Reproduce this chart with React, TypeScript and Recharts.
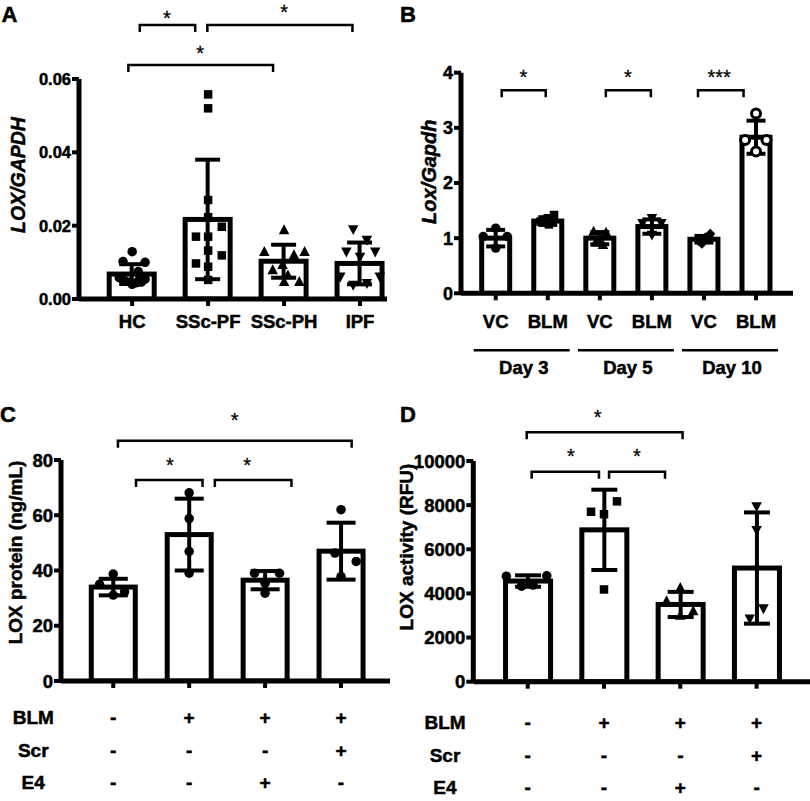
import React from 'react';
import {
  ComposedChart, Bar, ErrorBar, Scatter, XAxis, YAxis, ReferenceLine, ReferenceDot,
} from 'recharts';

type Pt = [number, number]; // [value, horizontal jitter in group units]
type Bracket = { from: number; to: number; y: number; star: string; sx: number; sy: number };

const FONT = '"Liberation Sans", Arial, Helvetica, sans-serif';
const INK = '#000';

/* A: LOX/GAPDH, human lung */
const A_GROUPS = ['HC', 'SSc-PF', 'SSc-PH', 'IPF'];
const A_MEAN = [0.0068, 0.0217, 0.0103, 0.0097];
const A_SD = [0.0027, 0.0163, 0.0045, 0.0057];
const A_YTICKS = [0, 0.02, 0.04, 0.06];
const A_HC: Pt[] = [[0.0129, 0], [0.0102, -0.12], [0.0100, 0.17], [0.0075, 0.08], [0.0058, -0.17], [0.0050, -0.1], [0.0046, -0.03], [0.0044, 0.05], [0.0046, 0.12], [0.0054, 0.17], [0.0062, 0.1], [0.0040, 0]];
const A_PF: Pt[] = [[0.0558, 0], [0.052, 0], [0.027, 0], [0.0223, 0], [0.0197, 0.18], [0.017, -0.16], [0.017, 0], [0.0132, 0], [0.0119, 0.18], [0.0097, -0.16], [0.0088, 0], [0.0052, 0]];
const A_PH: Pt[] = [[0.0188, 0], [0.0129, -0.26], [0.0129, 0.27], [0.012, 0.13], [0.0093, -0.02], [0.0079, -0.15], [0.0065, 0.05], [0.0047, 0], [0.0047, 0.2]];
const A_IPF: Pt[] = [[0.019, -0.09], [0.0161, 0.09], [0.0129, -0.18], [0.0129, 0.2], [0.0115, 0], [0.0061, -0.26], [0.0061, 0.26], [0.0038, -0.09], [0.0043, 0.09]];
const A_BRACKETS: Bracket[] = [
  { from: 0.1, to: 0.83, y: 0.0747, star: '*', sx: 0.456, sy: 0.0777 },
  { from: 0.99, to: 2.9, y: 0.0747, star: '*', sx: 2.0, sy: 0.0793 },
  { from: -0.05, to: 1.855, y: 0.0638, star: '*', sx: 0.895, sy: 0.0681 },
];

/* B: Lox/Gapdh, mouse bleomycin time course */
const B_GROUPS = ['VC', 'BLM', 'VC', 'BLM', 'VC', 'BLM'];
const B_DAYS = ['Day 3', 'Day 5', 'Day 10'];
const B_DAY_AT = [0.5, 2.5, 4.5];
const B_MEAN = [1.0, 1.31, 1.0, 1.21, 0.98, 2.83];
const B_SD = [0.15, 0.07, 0.11, 0.13, 0.06, 0.3];
const B_YTICKS = [0, 1, 2, 3, 4];
const B_VC3: Pt[] = [[1.18, 0], [1.03, -0.24], [1.03, 0.22], [0.82, 0]];
const B_BLM3: Pt[] = [[1.42, 0.12], [1.36, 0], [1.3, -0.14], [1.25, 0.02]];
const B_VC5: Pt[] = [[1.12, -0.12], [1.1, 0.12], [0.92, -0.08], [0.88, 0.06]];
const B_BLM5: Pt[] = [[1.36, 0], [1.27, -0.18], [1.27, 0.18], [1.06, 0]];
const B_VC10: Pt[] = [[1.08, 0.12], [1.01, 0.02], [0.95, -0.1], [0.9, -0.04]];
const B_BLM10: Pt[] = [[3.26, 0], [2.78, -0.21], [2.78, 0.2], [2.57, 0]];
const B_BRACKETS: Bracket[] = [
  { from: 0.115, to: 0.96, y: 3.68, star: '*', sx: 0.53, sy: 4.0 },
  { from: 2.115, to: 2.98, y: 3.68, star: '*', sx: 2.54, sy: 4.0 },
  { from: 3.885, to: 4.76, y: 3.68, star: '***', sx: 4.29, sy: 4.0 },
];

/* C: LOX protein */
const C_MEAN = [34, 53, 36.5, 47];
const C_SD = [3, 13, 3.3, 10.3];
const C_YTICKS = [0, 20, 40, 60, 80];
const C_G1: Pt[] = [[38.7, 0], [35, -0.18], [31.1, 0], [32.3, 0.15]];
const C_G2: Pt[] = [[68.1, 0], [58.8, 0], [46.9, 0], [39, 0]];
const C_G3: Pt[] = [[39, -0.14], [39, 0.19], [35.4, 0], [31.8, 0]];
const C_G4: Pt[] = [[62, 0], [46.3, -0.08], [43.3, 0.2], [37.8, 0]];
const C_BRACKETS: Bracket[] = [
  { from: 0.062, to: 3.14, y: 87, star: '*', sx: 1.6, sy: 96 },
  { from: 0.3, to: 1.176, y: 72.8, star: '*', sx: 0.746, sy: 79.6 },
  { from: 1.338, to: 2.347, y: 72.8, star: '*', sx: 1.763, sy: 79.6 },
];

/* D: LOX activity */
const D_MEAN = [4560, 6880, 3500, 5150];
const D_SD = [260, 1820, 570, 2520];
const D_YTICKS = [0, 2000, 4000, 6000, 8000, 10000];
const D_G1: Pt[] = [[4780, -0.28], [4800, 0.25], [4330, -0.08], [4380, 0.07]];
const D_G2: Pt[] = [[7700, -0.17], [7590, 0], [8170, 0.17], [4180, 0]];
const D_G3: Pt[] = [[4260, 0], [3650, -0.18], [3200, 0.17], [3000, 0]];
const D_G4: Pt[] = [[7940, 0], [6870, 0], [3320, 0.09], [2860, -0.09]];
const D_BRACKETS: Bracket[] = [
  { from: -0.013, to: 2.03, y: 11300, star: '*', sx: 0.917, sy: 12160 },
  { from: 0.052, to: 0.934, y: 9516, star: '*', sx: 0.567, sy: 10420 },
  { from: 1.066, to: 1.8, y: 9516, star: '*', sx: 1.43, sy: 10420 },
];

/* treatment table under C and D */
const T_ROWS = ['BLM', 'Scr', 'E4'];
const T_BLM = ['-', '+', '+', '+'];
const T_SCR = ['-', '-', '-', '+'];
const T_E4 = ['-', '-', '+', '-'];

const AXIS_W = 5;
const BAR_W = 5;

// a thin outline on the glyphs mimics the heavy print of the original
const bold = (size: number) => ({
  fill: INK, fontSize: size, fontWeight: 700, fontFamily: FONT, stroke: INK, strokeWidth: 0.5,
});

function markerShape(kind: string, s: number) {
  return (p: any) => {
    const { cx, cy } = p;
    if (cx == null || cy == null) return <g />;
    const h = s / 2;
    switch (kind) {
      case 'square':
        return <rect x={cx - h} y={cy - h} width={s} height={s} fill={INK} />;
      case 'up':
        return <polygon points={`${cx},${cy - h * 1.1} ${cx + h},${cy + h * 0.8} ${cx - h},${cy + h * 0.8}`} fill={INK} />;
      case 'down':
        return <polygon points={`${cx},${cy + h * 1.1} ${cx + h},${cy - h * 0.8} ${cx - h},${cy - h * 0.8}`} fill={INK} />;
      case 'diamond':
        return <polygon points={`${cx},${cy - h * 1.2} ${cx + h * 1.2},${cy} ${cx},${cy + h * 1.2} ${cx - h * 1.2},${cy}`} fill={INK} />;
      case 'open':
        return <circle cx={cx} cy={cy} r={h - 1} fill="#fff" stroke={INK} strokeWidth={3} />;
      default:
        return <circle cx={cx} cy={cy} r={h} fill={INK} />;
    }
  };
}

const bracketShape = (p: any) => {
  const { x1, y1, x2 } = p;
  if (x1 == null) return <g />;
  return <path d={`M${x1},${y1 + 7}V${y1}H${x2}V${y1 + 7}`} fill="none" stroke={INK} strokeWidth={2.5} />;
};

const starShape = (label: string) => (p: any) => (
  <text x={p.cx} y={p.cy + 11} textAnchor="middle" fontFamily={FONT} fontSize={20} fill={INK} stroke={INK} strokeWidth={0.3}>{label}</text>
);

// white box with a heavy outline
const barShape = (p: any) => {
  const { x, y, width, height } = p;
  if (x == null || !height) return <g />;
  return <rect x={x} y={y} width={width} height={height} fill="#fff" stroke={INK} strokeWidth={BAR_W} />;
};

function DayTick(props: any) {
  const { x, y, index } = props;
  return (
    <g>
      <line x1={x - 48} x2={x + 48} y1={y + 17} y2={y + 17} stroke={INK} strokeWidth={2.6} />
      <text x={x + 2} y={y + 41} textAnchor="middle" {...bold(18.5)}>{B_DAYS[index]}</text>
    </g>
  );
}

function TableTick(props: any) {
  const { x, y, index, rowDy, nameDx } = props;
  const rows = [T_BLM, T_SCR, T_E4];
  return (
    <g>
      {rows.map((r, k) => (
        <text key={k} x={x} y={y + rowDy[k]} dy="0.36em" textAnchor="middle" {...bold(19)}>{r[index]}</text>
      ))}
      {index === 0 && T_ROWS.map((n, k) => (
        <text key={n} x={x + nameDx} y={y + rowDy[k]} dy="0.36em" textAnchor="middle" {...bold(19)}>{n}</text>
      ))}
    </g>
  );
}

function DotBarPanel({
  left, top, width, height, margin, yWidth, xHeight, xDomain, yDomain, yTicks, yFmt, yFont = 16,
  labels, means, sds, groups, shapes, barSize, cap, brackets, xTick, xTickMargin = 9, dayTicks,
}: any) {
  const bars = means.map((m: number, i: number) => ({ x: i, mean: m, sd: sds[i] }));
  const idx = means.map((_: number, i: number) => i);
  return (
    <div style={{ position: 'absolute', left, top }}>
      <ComposedChart width={width} height={height} margin={margin} data={bars}>
        <XAxis
          type="number" dataKey="x" domain={xDomain} allowDataOverflow ticks={idx} interval={0}
          height={xHeight} tickSize={7} tickMargin={xTick ? 0 : xTickMargin}
          axisLine={{ stroke: INK, strokeWidth: AXIS_W }} tickLine={{ stroke: INK, strokeWidth: 4 }}
          tick={xTick ?? bold(18.5)} tickFormatter={(v: number) => (labels ? labels[v] : '')}
        />
        {/* second axis carries the dots (jittered x); in B it also shows the day groups */}
        {dayTicks ? (
          <XAxis
            xAxisId="pts" type="number" dataKey="x" domain={xDomain} allowDataOverflow ticks={dayTicks} interval={0}
            height={40} tickSize={0} tickMargin={0} axisLine={false} tickLine={false} tick={<DayTick />}
          />
        ) : (
          <XAxis xAxisId="pts" type="number" dataKey="x" domain={xDomain} allowDataOverflow hide />
        )}
        <YAxis
          type="number" domain={yDomain} allowDataOverflow ticks={yTicks} interval={0} width={yWidth}
          tickSize={7} tickMargin={1} tickFormatter={yFmt}
          axisLine={{ stroke: INK, strokeWidth: AXIS_W }} tickLine={{ stroke: INK, strokeWidth: 4 }}
          tick={bold(yFont)}
        />
        <Bar dataKey="mean" fill="#fff" stroke={INK} strokeWidth={BAR_W} barSize={barSize} shape={barShape} isAnimationActive={false}>
          <ErrorBar dataKey="sd" direction="y" width={cap} stroke={INK} strokeWidth={4} isAnimationActive={false} />
        </Bar>
        {groups.map((g: Pt[], i: number) => (
          <Scatter
            key={`g${i}`} xAxisId="pts" dataKey="v" isAnimationActive={false}
            data={g.map(([v, o]) => ({ x: i + o, v }))}
            shape={markerShape(shapes[i][0], shapes[i][1])}
          />
        ))}
        {brackets.map((b: Bracket, i: number) => (
          <ReferenceLine
            key={`b${i}`} ifOverflow="visible" shape={bracketShape}
            segment={[{ x: b.from, y: b.y }, { x: b.to, y: b.y }]}
          />
        ))}
        {brackets.map((b: Bracket, i: number) => (
          <ReferenceDot key={`s${i}`} x={b.sx} y={b.sy} ifOverflow="visible" shape={starShape(b.star)} />
        ))}
      </ComposedChart>
    </div>
  );
}

const titleStyle = { fill: INK, fontWeight: 700, fontFamily: FONT, stroke: INK, strokeWidth: 0.5 };

export default function App() {
  return (
    <div style={{ position: 'absolute', left: 0, top: 0, width: 810, height: 801, background: '#fff', overflow: 'hidden', fontFamily: FONT }}>
      <DotBarPanel
        left={0} top={0} width={400} height={400}
        margin={{ top: 79, right: 13, left: 19, bottom: 61 }} yWidth={60} xHeight={40}
        xDomain={[-0.7, 3.355]} yDomain={[0, 0.06]} yTicks={A_YTICKS} yFmt={(v: number) => v.toFixed(2)} yFont={16.5}
        labels={A_GROUPS} means={A_MEAN} sds={A_SD}
        groups={[A_HC, A_PF, A_PH, A_IPF]}
        shapes={[['circle', 9.5], ['square', 8.5], ['up', 10.5], ['down', 10.5]]}
        barSize={45} cap={12.5} brackets={A_BRACKETS}
      />
      <DotBarPanel
        left={400} top={0} width={410} height={400}
        margin={{ top: 72.7, right: 17, left: 21, bottom: 26.7 }} yWidth={40} xHeight={40}
        xDomain={[-0.667, 5.71]} yDomain={[0, 4]} yTicks={B_YTICKS} yFmt={(v: number) => String(v)} yFont={18}
        labels={B_GROUPS} means={B_MEAN} sds={B_SD} xTickMargin={14.7}
        groups={[B_VC3, B_BLM3, B_VC5, B_BLM5, B_VC10, B_BLM10]}
        shapes={[['circle', 9.5], ['square', 8.5], ['up', 10.5], ['down', 10.5], ['diamond', 8.5], ['open', 11]]}
        barSize={28} cap={9.5} brackets={B_BRACKETS} dayTicks={B_DAY_AT}
      />
      <DotBarPanel
        left={0} top={400} width={400} height={401}
        margin={{ top: 60, right: 10, left: 21, bottom: 10 }} yWidth={40} xHeight={110}
        xDomain={[-0.688, 3.645]} yDomain={[0, 80]} yTicks={C_YTICKS} yFmt={(v: number) => String(v)} yFont={18.5}
        means={C_MEAN} sds={C_SD}
        groups={[C_G1, C_G2, C_G3, C_G4]}
        shapes={[['circle', 9.5], ['circle', 9.5], ['circle', 9.5], ['circle', 9.5]]}
        barSize={44} cap={14.5} brackets={C_BRACKETS}
        xTick={<TableTick rowDy={[28.7, 62, 93.7]} nameDx={-80} />}
      />
      <DotBarPanel
        left={400} top={400} width={410} height={401}
        margin={{ top: 61, right: 0, left: 18.3, bottom: 9.3 }} yWidth={55} xHeight={110}
        xDomain={[-0.713, 3.7]} yDomain={[0, 10000]} yTicks={D_YTICKS} yFmt={(v: number) => String(v)} yFont={18.5}
        means={D_MEAN} sds={D_SD}
        groups={[D_G1, D_G2, D_G3, D_G4]}
        shapes={[['circle', 9.5], ['square', 8.5], ['up', 10.5], ['down', 10.5]]}
        barSize={45} cap={13} brackets={D_BRACKETS}
        xTick={<TableTick rowDy={[33, 66.3, 98]} nameDx={-82.7} />}
      />
      <svg width={810} height={801} style={{ position: 'absolute', left: 0, top: 0, pointerEvents: 'none' }}>
        <text x={1.5} y={21.7} fontSize={22} {...titleStyle}>A</text>
        <text x={400} y={21.7} fontSize={22} {...titleStyle}>B</text>
        <text x={0} y={421.7} fontSize={22} {...titleStyle}>C</text>
        <text x={400} y={421.7} fontSize={22} {...titleStyle}>D</text>
        <text x={24.5} y={175} transform="rotate(-90 24.5 175)" textAnchor="middle" fontSize={19.5} fontStyle="italic" {...titleStyle}>LOX/GAPDH</text>
        <text x={436} y={171.7} transform="rotate(-90 436 171.7)" textAnchor="middle" fontSize={20} fontStyle="italic" {...titleStyle}>Lox/Gapdh</text>
        <text x={21.6} y={552.5} transform="rotate(-90 21.6 552.5)" textAnchor="middle" fontSize={19} {...titleStyle}>LOX protein (ng/mL)</text>
        <text x={413} y={547} transform="rotate(-90 413 547)" textAnchor="middle" fontSize={19} {...titleStyle}>LOX activity (RFU)</text>
      </svg>
    </div>
  );
}
